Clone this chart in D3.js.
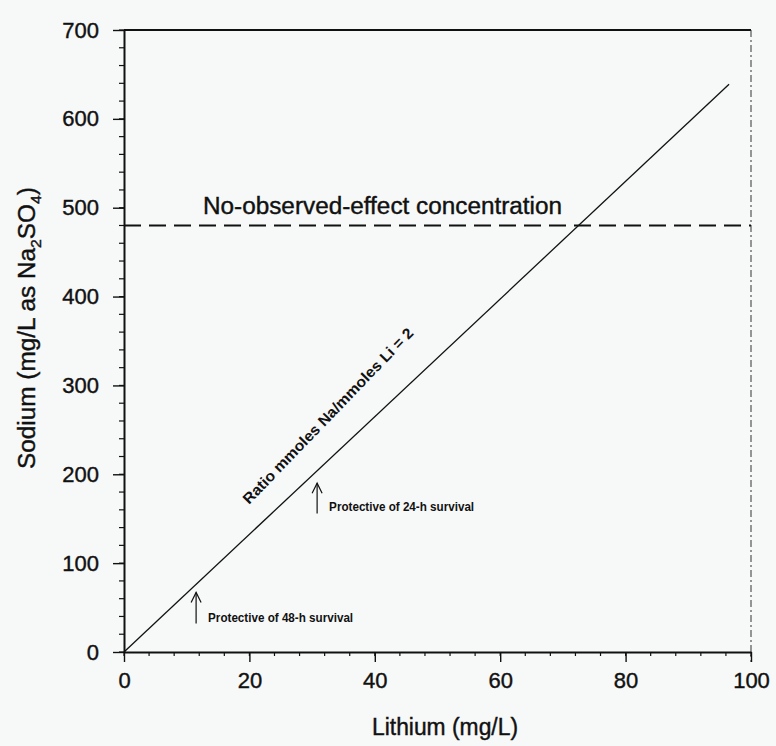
<!DOCTYPE html>
<html>
<head>
<meta charset="utf-8">
<script src="https://cdn.jsdelivr.net/npm/d3@7"></script>
<style>
  html, body { margin: 0; padding: 0; background: #f7f8f8; }
  svg { display: block; font-family: "Liberation Sans", Arial, sans-serif; }
  .heavy { stroke: #111; stroke-width: 0.4px; }
</style>
</head>
<body>
<div id="chart"></div>
<script>
// axis ticks
const xTicks = [0, 20, 40, 60, 80, 100];
const yTicks = [0, 100, 200, 300, 400, 500, 600, 700];
const xMinor = d3.range(0, 101, 4);
const yMinor = d3.range(0, 701, 20);

// molar ratio Na/Li = 2 line (mg/L), end points
const ratioLine = [[0, 0], [96.5, 639]];
// no-observed-effect concentration (mg/L Na)
const noecValue = 480;
// survival arrows: lithium, sodium start, sodium end, label
const arrows = [
  { li: 11.5, y0: 32, y1: 67, label: "Protective of 48-h survival" },
  { li: 30.8, y0: 156, y1: 190, label: "Protective of 24-h survival" }
];

const width = 776, height = 746;
const svg = d3.select("#chart").append("svg")
  .attr("width", width)
  .attr("height", height);

const x = d3.scaleLinear().domain([0, 100]).range([124, 751]);
const y = d3.scaleLinear().domain([0, 700]).range([652, 30]);

const ink = "#111";

// frame: top solid, right dotted
svg.append("line")
  .attr("x1", x(0)).attr("x2", x(100))
  .attr("y1", y(700)).attr("y2", y(700))
  .attr("stroke", ink).attr("stroke-width", 2);
svg.append("line")
  .attr("x1", x(100)).attr("x2", x(100))
  .attr("y1", y(700)).attr("y2", y(0) + 10)
  .attr("stroke", "#333").attr("stroke-width", 1)
  .attr("stroke-dasharray", "7,3,2,3");

// minor ticks
svg.append("g").selectAll("line")
  .data(yMinor)
  .join("line")
  .attr("x1", x(0) - 5).attr("x2", x(0))
  .attr("y1", d => y(d)).attr("y2", d => y(d))
  .attr("stroke", ink).attr("stroke-width", 1.2);
svg.append("g").selectAll("line")
  .data(xMinor)
  .join("line")
  .attr("x1", d => x(d)).attr("x2", d => x(d))
  .attr("y1", y(0)).attr("y2", y(0) + 4)
  .attr("stroke", ink).attr("stroke-width", 1.2);

// axes
const yAxis = svg.append("g")
  .attr("transform", `translate(${x(0)},0)`)
  .call(d3.axisLeft(y).tickValues(yTicks).tickSize(11).tickPadding(14).tickSizeOuter(0));
const xAxis = svg.append("g")
  .attr("transform", `translate(0,${y(0)})`)
  .call(d3.axisBottom(x).tickValues(xTicks).tickSize(10).tickPadding(10).tickSizeOuter(0));

[xAxis, yAxis].forEach(g => {
  g.select(".domain").attr("stroke", ink).attr("stroke-width", 2);
  g.selectAll(".tick line").attr("stroke", ink).attr("stroke-width", 1.4);
  g.selectAll(".tick text")
    .attr("class", "heavy")
    .attr("fill", ink)
    .style("font-size", "22px")
    .style("font-family", "Liberation Sans, Arial, sans-serif");
});

// axis titles
svg.append("text")
  .attr("class", "heavy")
  .attr("x", 445).attr("y", 735)
  .attr("text-anchor", "middle")
  .attr("textLength", 146)
  .attr("lengthAdjust", "spacingAndGlyphs")
  .attr("fill", ink)
  .style("font-size", "23px")
  .text("Lithium (mg/L)");

const yTitle = svg.append("text")
  .attr("class", "heavy")
  .attr("transform", "translate(35,328) rotate(-90)")
  .attr("text-anchor", "middle")
  .attr("textLength", 282)
  .attr("lengthAdjust", "spacingAndGlyphs")
  .attr("fill", ink)
  .style("font-size", "23px");
yTitle.append("tspan").text("Sodium (mg/L as Na");
yTitle.append("tspan").attr("dy", 6).style("font-size", "15px").text("2");
yTitle.append("tspan").attr("dy", -6).text("SO");
yTitle.append("tspan").attr("dy", 6).style("font-size", "15px").text("4");
yTitle.append("tspan").attr("dy", -6).text(")");

// NOEC dashed line
svg.append("line")
  .attr("x1", x(0)).attr("x2", x(100))
  .attr("y1", y(noecValue)).attr("y2", y(noecValue))
  .attr("stroke", ink).attr("stroke-width", 1.8)
  .attr("stroke-dasharray", "17,8");
svg.append("text")
  .attr("class", "heavy")
  .attr("x", 203).attr("y", y(noecValue) - 11)
  .attr("textLength", 359)
  .attr("lengthAdjust", "spacingAndGlyphs")
  .attr("fill", ink)
  .style("font-size", "23px")
  .text("No-observed-effect concentration");

// ratio line
svg.append("path")
  .datum(ratioLine)
  .attr("d", d3.line().x(d => x(d[0])).y(d => y(d[1])))
  .attr("fill", "none")
  .attr("stroke", ink)
  .attr("stroke-width", 1.3);
svg.append("text")
  .attr("transform", "translate(249,505) rotate(-46)")
  .attr("textLength", 238)
  .attr("lengthAdjust", "spacingAndGlyphs")
  .attr("fill", ink)
  .style("font-size", "15px")
  .style("font-weight", "bold")
  .text("Ratio mmoles Na/mmoles Li = 2");

// survival arrows
const ag = svg.append("g").selectAll("g")
  .data(arrows)
  .join("g");
ag.append("line")
  .attr("x1", d => x(d.li)).attr("x2", d => x(d.li))
  .attr("y1", d => y(d.y0)).attr("y2", d => y(d.y1))
  .attr("stroke", ink).attr("stroke-width", 1.2);
ag.append("path")
  .attr("d", d => `M${x(d.li) - 5},${y(d.y1) + 10}L${x(d.li)},${y(d.y1)}L${x(d.li) + 5},${y(d.y1) + 10}`)
  .attr("fill", "none")
  .attr("stroke", ink).attr("stroke-width", 1.2);
ag.append("text")
  .attr("x", d => x(d.li) + 12)
  .attr("y", d => y(d.y0) - 2)
  .attr("textLength", 145)
  .attr("lengthAdjust", "spacingAndGlyphs")
  .attr("fill", ink)
  .style("font-size", "12px")
  .style("font-weight", "bold")
  .text(d => d.label);
</script>
</body>
</html>
